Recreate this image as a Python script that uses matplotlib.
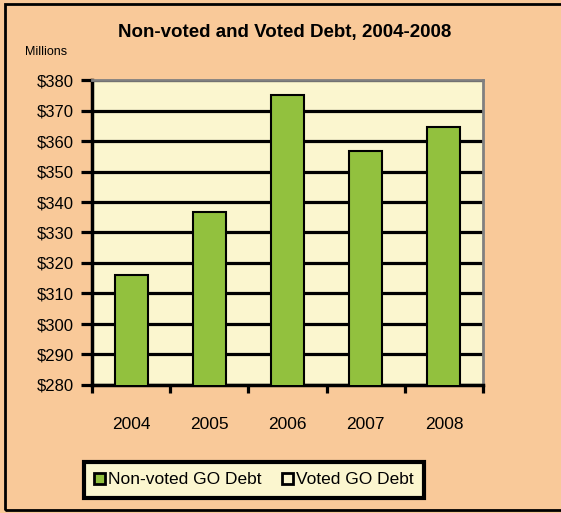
import matplotlib.pyplot as plt
from matplotlib.patches import Patch, Rectangle

plt.rcParams['font.family'] = ['Liberation Sans', 'DejaVu Sans']

# data (millions of dollars)
years = ['2004', '2005', '2006', '2007', '2008']
non_voted = [316.2, 336.6, 375.0, 356.8, 364.7]
voted = [0, 0, 0, 0, 0]

fig_bg = '#F9C999'
plot_bg = '#FBF6CF'
green = '#92C13E'

fig = plt.figure(figsize=(5.61, 5.13), dpi=100, facecolor=fig_bg)
ax = fig.add_axes([92 / 561, 1 - 385 / 513, 391 / 561, 305 / 513])
ax.set_facecolor(plot_bg)

x = list(range(len(years)))
ax.bar(x, non_voted, width=0.42, color=green, edgecolor='black', linewidth=1.5, zorder=3)

ax.set_ylim(280, 380)
ax.set_xlim(-0.5, len(years) - 0.5)
ax.set_yticks(range(280, 381, 10))
ax.set_yticklabels(['$%d' % v for v in range(280, 381, 10)], fontsize=12)
ax.yaxis.grid(True, color='black', linewidth=2.3, zorder=1)
ax.set_axisbelow(True)

ax.set_xticks(x)
ax.set_xticklabels(years, fontsize=12.5)
ax.set_xticks([i - 0.5 for i in range(len(years) + 1)], minor=True)
ax.tick_params(axis='x', which='major', length=0, pad=23)
ax.tick_params(axis='x', which='minor', length=6, width=2.3, direction='out')
ax.tick_params(axis='y', length=8, width=2.3, direction='out', pad=5)

for s in ['left', 'bottom']:
    ax.spines[s].set_linewidth(2.5)
    ax.spines[s].set_color('black')
for s in ['top', 'right']:
    ax.spines[s].set_linewidth(2)
    ax.spines[s].set_color('#808080')

fig.text(0.508, 1 - 32 / 513, 'Non-voted and Voted Debt, 2004-2008', ha='center', va='center',
         fontsize=13.5, fontweight='bold')
fig.text(25 / 561, 1 - 52 / 513, 'Millions', ha='left', va='center', fontsize=9)

handles = [Patch(facecolor=green, edgecolor='black', linewidth=2, label='Non-voted GO Debt'),
           Patch(facecolor=plot_bg, edgecolor='black', linewidth=2, label='Voted GO Debt')]
leg = fig.legend(handles=handles, loc='center', bbox_to_anchor=(254 / 561, 1 - 480 / 513),
                 ncol=2, fontsize=12.5, frameon=True, fancybox=False, handlelength=0.6,
                 handleheight=0.6, handletextpad=0.2, columnspacing=1.2, borderpad=0.6)
leg.get_frame().set_facecolor(plot_bg)
leg.get_frame().set_edgecolor('black')
leg.get_frame().set_linewidth(3)
leg.get_frame().set_alpha(1)

# outer chart border (right edge falls outside the picture)
fig.patches.append(Rectangle((5 / 561, 1 - 510 / 513), 1.2, 506 / 513, transform=fig.transFigure,
                             fill=False, edgecolor='black', linewidth=2))

fig.savefig('out.png', dpi=100, facecolor=fig_bg)
